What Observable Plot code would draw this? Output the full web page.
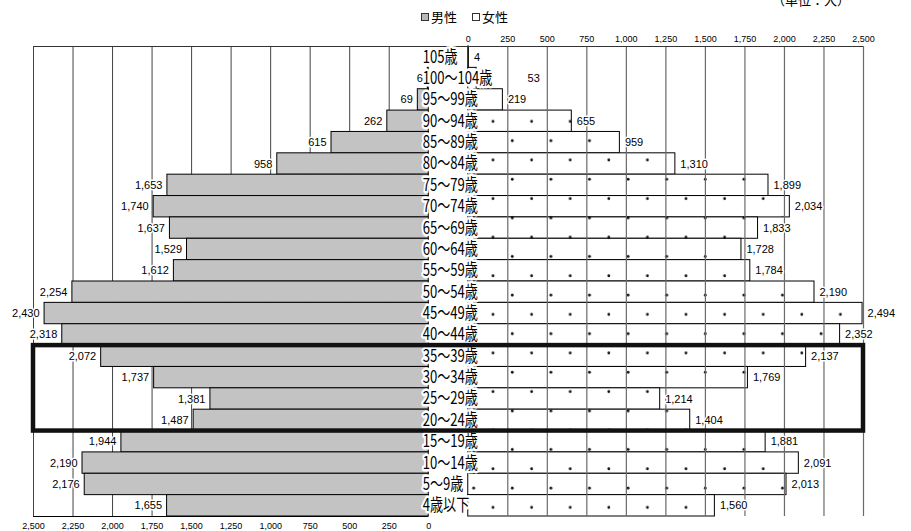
<!DOCTYPE html>
<html>
<head>
<meta charset="utf-8">
<script src="https://cdn.jsdelivr.net/npm/d3@7"></script>
<script src="https://cdn.jsdelivr.net/npm/@observablehq/plot@0.6"></script>
<style>
  body { margin: 0; background: #fff; }
  #wrap { position: relative; width: 911px; height: 531px; overflow: hidden; font-family: "Noto Sans CJK JP", sans-serif; color: #000; }
  #chart { position: absolute; left: 0; top: 0; }
  #legend { position: absolute; left: 421px; top: 9px; font-size: 13px; line-height: 16px; display: flex; align-items: center; white-space: nowrap; }
  .sw { display: inline-block; width: 6px; height: 6px; border: 1px solid #333; margin-right: 2px; }
  #unit { position: absolute; left: 772px; top: -8px; font-size: 13px; line-height: 16px; white-space: nowrap; }
</style>
</head>
<body>
<div id="wrap">
  <div id="chart"></div>
  <div id="legend"><span class="sw" style="background:#b8b8b8"></span>男性<span class="sw" style="background:#fff;margin-left:15px"></span>女性</div>
  <div id="unit">（単位：人）</div>
</div>
<script>
// ---- data ----
const ages = ["105歳","100～104歳","95～99歳","90～94歳","85～89歳","80～84歳","75～79歳","70～74歳","65～69歳","60～64歳","55～59歳","50～54歳","45～49歳","40～44歳","35～39歳","30～34歳","25～29歳","20～24歳","15～19歳","10～14歳","5～9歳","4歳以下"];
const male   = [0, 6, 69, 262, 615, 958, 1653, 1740, 1637, 1529, 1612, 2254, 2430, 2318, 2072, 1737, 1381, 1487, 1944, 2190, 2176, 1655];
const female = [4, 53, 219, 655, 959, 1310, 1899, 2034, 1833, 1728, 1784, 2190, 2494, 2352, 2137, 1769, 1214, 1404, 1881, 2091, 2013, 1560];
const tickValues = [0, 250, 500, 750, 1000, 1250, 1500, 1750, 2000, 2250, 2500];
const highlightRange = ["35～39歳", "20～24歳"];

// ---- layout helpers ----
const MAX = 2500;   // axis extent
const GAP = 250;    // centre gap between the two halves (in value units)
const W = 911, ML = 33, MR = 48;
const AGE_FONT = 17, AGE_SQUEEZE = 0.77, AGE_DX = -6;
const fmt = d3.format(",");
const rows = ages.map((age, i) => ({age, i, male: male[i], female: female[i]}));
const hi = [{y1: ages.indexOf(highlightRange[0]) - 0.5, y2: ages.indexOf(highlightRange[1]) + 0.5}];
const numFont = "Liberation Sans, Arial, sans-serif";

// keep a female value label clear of a long centre age label
const ctx = document.createElement("canvas").getContext("2d");
ctx.font = `${AGE_FONT}px "Noto Sans CJK JP"`;
const pxPerUnit = (W - ML - MR) / (2 * MAX + GAP);
function femaleLabelX(d) {
  const ageEndPx = AGE_DX + ctx.measureText(d.age).width * AGE_SQUEEZE;
  const barEndPx = (GAP + d.female) * pxPerUnit;
  return barEndPx + 5 < ageEndPx ? (ageEndPx + 30) / pxPerUnit : GAP + d.female;
}

const plot = Plot.plot({
  width: W,
  height: 531,
  marginLeft: ML,
  marginRight: MR,
  marginTop: 46,
  marginBottom: 15,
  style: {fontFamily: numFont, fontSize: "11px", background: "white"},
  x: {domain: [-MAX, MAX + GAP], axis: null},
  y: {domain: [-0.5, ages.length - 0.5], reverse: true, axis: null},
  marks: [
    // male gridlines (behind bars)
    Plot.ruleX(tickValues.filter(v => v > 0), {x: v => -v, stroke: "#444", strokeWidth: 1}),
    // male bars
    Plot.rect(rows.filter(d => d.male > 0), {
      x1: d => -d.male, x2: 0, y1: d => d.i - 0.5, y2: d => d.i + 0.5,
      fill: "#c3c3c3", stroke: "#000", strokeWidth: 1
    }),
    // female bars (dotted)
    Plot.rect(rows, {
      x1: GAP, x2: d => GAP + d.female, y1: d => d.i - 0.5, y2: d => d.i + 0.5,
      fill: "url(#dots)", stroke: "#000", strokeWidth: 1
    }),
    // female gridlines (over bars)
    Plot.ruleX(tickValues.filter(v => v > 0), {x: v => v + GAP, stroke: "#6a6a6a", strokeWidth: 1.2}),
    // top frame line and bottom axis line
    Plot.ruleY([-0.5], {stroke: "#333", strokeWidth: 1.2}),
    Plot.ruleY([ages.length - 0.5], {x1: -MAX, x2: 0, stroke: "#000", strokeWidth: 1.2}),
    // axes
    Plot.axisX(tickValues.map(v => v + GAP), {anchor: "top", tickSize: 0, tickPadding: 5, fontSize: 9, tickFormat: d => fmt(d - GAP), label: null}),
    Plot.axisX(tickValues.map(v => -v), {anchor: "bottom", tickSize: 0, tickPadding: 6, fontSize: 9, tickFormat: d => fmt(Math.abs(d)), label: null}),
    // value labels
    Plot.text(rows.filter(d => d.male > 0), {
      x: d => -d.male, y: "i", text: d => fmt(d.male), textAnchor: "end", dx: -5,
      fontSize: 11, fill: "#000", stroke: "white", strokeWidth: 3
    }),
    Plot.text(rows, {
      x: femaleLabelX, y: "i", text: d => fmt(d.female), textAnchor: "start", dx: 5,
      fontSize: 11, fill: "#000", stroke: "white", strokeWidth: 3
    }),
    // age labels in the centre
    Plot.text(rows, {
      x: 0, y: "i", text: "age", textAnchor: "start", dx: AGE_DX,
      fontSize: AGE_FONT, fontFamily: "Noto Sans CJK JP", fill: "#000",
      stroke: "white", strokeWidth: 5
    }),
    // highlight box
    Plot.rect(hi, {x1: -MAX, x2: MAX + GAP, y1: "y1", y2: "y2", fill: "none", stroke: "#111", strokeWidth: 4.5})
  ]
});

// dotted pattern for the female bars
const defs = d3.select(plot).insert("defs", ":first-child");
const PW = 38.6, PH = 38.6;
const pat = defs.append("pattern").attr("id", "dots").attr("patternUnits", "userSpaceOnUse")
  .attr("width", PW).attr("height", PH).attr("x", 493 - PW / 4).attr("y", 160 - PH / 4);
pat.append("rect").attr("width", PW).attr("height", PH).attr("fill", "white");
pat.append("circle").attr("cx", PW / 4).attr("cy", PH / 4).attr("r", 1.4).attr("fill", "#111");
pat.append("circle").attr("cx", 3 * PW / 4).attr("cy", 3 * PH / 4).attr("r", 1.4).attr("fill", "#111");

// condense the centre age labels horizontally (keep Plot's own x/y/dy line offsets)
const ageSet = new Set(ages);
d3.select(plot).selectAll("text").each(function () {
  if (!ageSet.has(this.textContent)) return;
  const t = this.getAttribute("transform") || "";
  this.setAttribute("transform", `${t} scale(${AGE_SQUEEZE},1)`);
});

document.getElementById("chart").append(plot);
</script>
</body>
</html>
